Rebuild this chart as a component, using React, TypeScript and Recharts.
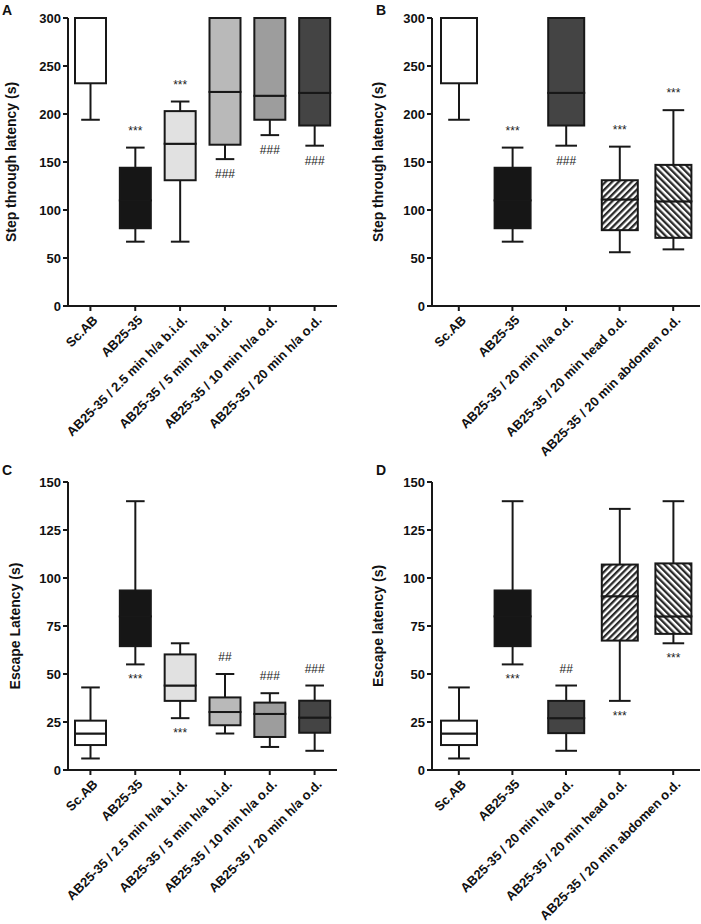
import { Bar, BarChart, XAxis, YAxis } from "recharts";

const doseGroups = [
  "Sc.AB",
  "AB25-35",
  "AB25-35 / 2.5 min h/a b.i.d.",
  "AB25-35 / 5 min h/a b.i.d.",
  "AB25-35 / 10 min h/a o.d.",
  "AB25-35 / 20 min h/a o.d.",
];
const siteGroups = [
  "Sc.AB",
  "AB25-35",
  "AB25-35 / 20 min h/a o.d.",
  "AB25-35 / 20 min head o.d.",
  "AB25-35 / 20 min abdomen o.d.",
];

const stepTicks = [0, 50, 100, 150, 200, 250, 300];
const escapeTicks = [0, 25, 50, 75, 100, 125, 150];

// A: step through latency, dose groups
const stepDoseMin = [194, 67, 67, 153, 178, 167];
const stepDoseQ1 = [232, 81, 131, 168, 194, 188];
const stepDoseMed = [300, 110, 169, 223, 219, 222];
const stepDoseQ3 = [300, 144, 203, 300, 300, 300];
const stepDoseMax = [300, 165, 213, 300, 300, 300];
const stepDoseAbove = ["", "***", "***", "", "", ""];
const stepDoseBelow = ["", "", "", "###", "###", "###"];

// B: step through latency, application site
const stepSiteMin = [194, 67, 167, 56, 59];
const stepSiteQ1 = [232, 81, 188, 79, 71];
const stepSiteMed = [300, 110, 222, 111, 109];
const stepSiteQ3 = [300, 144, 300, 131, 147];
const stepSiteMax = [300, 165, 300, 166, 204];
const stepSiteAbove = ["", "***", "", "***", "***"];
const stepSiteBelow = ["", "", "###", "", ""];

// C: escape latency, dose groups
const escDoseMin = [6, 55, 27, 19, 12, 10];
const escDoseQ1 = [13, 64.5, 36, 23.3, 17.2, 19.4];
const escDoseMed = [19, 80, 44, 30.2, 29.2, 27.3];
const escDoseQ3 = [25.7, 93.5, 60.2, 37.8, 35.1, 36.1];
const escDoseMax = [43, 140, 66, 50, 40, 44];
const escDoseAbove = ["", "", "", "##", "###", "###"];
const escDoseBelow = ["", "***", "***", "", "", ""];

// D: escape latency, application site
const escSiteMin = [6, 55, 10, 36, 66];
const escSiteQ1 = [13, 64.5, 19.2, 67.4, 70.9];
const escSiteMed = [19, 80, 27, 90.5, 80];
const escSiteQ3 = [25.7, 93.5, 36, 107, 107.6];
const escSiteMax = [43, 140, 44, 136, 140];
const escSiteAbove = ["", "", "##", "", ""];
const escSiteBelow = ["", "***", "", "***", "***"];

const doseFills = ["#ffffff", "#161616", "#e1e1e1", "#b9b9b9", "#9d9d9d", "#444444"];
const siteFills = ["#ffffff", "#161616", "#444444", "hatch-up", "hatch-down"];

const INK = "#181818";
const FONT = '"Liberation Sans", Arial, sans-serif';

function fillFor(fill: string, prefix: string) {
  return fill.startsWith("hatch") ? `url(#${prefix}-${fill})` : fill;
}

function AngledTick(props: any) {
  const { x, y, payload } = props;
  const ax = x + 8;
  const ay = y + 8;
  return (
    <text
      x={ax}
      y={ay}
      transform={`rotate(-45 ${ax} ${ay})`}
      textAnchor="end"
      fontSize={13}
      fontWeight={700}
      fill="#111"
    >
      {payload.value}
    </text>
  );
}

function Panel(props: any) {
  const {
    left, top, width, height, margin, letter, yLabel, labelX, yMax, yTicks,
    groups, mins, q1s, meds, q3s, maxs, above, below, fills, barSize, prefix,
  } = props;

  const rows = groups.map((name: string, i: number) => ({
    name,
    fill: fillFor(fills[i], prefix),
    above: above[i],
    below: below[i],
    base: mins[i],
    lowWhisker: q1s[i] - mins[i],
    lowBox: meds[i] - q1s[i],
    highBox: q3s[i] - meds[i],
    highWhisker: maxs[i] - q3s[i],
  }));

  const hidden = () => <g />;

  const boxShape = (p: any) => (
    <rect
      x={p.x}
      y={p.y}
      width={p.width}
      height={Math.max(p.height, 0)}
      fill={p.payload.fill}
      stroke={INK}
      strokeWidth={2}
    />
  );

  const lowWhiskerShape = (p: any) => {
    const cx = p.x + p.width / 2;
    const capW = p.width * 0.3;
    const bottom = p.y + p.height;
    return (
      <g>
        <line x1={cx} x2={cx} y1={p.y} y2={bottom} stroke={INK} strokeWidth={2} />
        <line x1={cx - capW} x2={cx + capW} y1={bottom} y2={bottom} stroke={INK} strokeWidth={2} />
        {p.payload.below ? (
          <text x={cx} y={bottom + 19} textAnchor="middle" fontSize={12} fill="#222">
            {p.payload.below}
          </text>
        ) : null}
      </g>
    );
  };

  const highWhiskerShape = (p: any) => {
    const cx = p.x + p.width / 2;
    const capW = p.width * 0.3;
    return (
      <g>
        <line x1={cx} x2={cx} y1={p.y} y2={p.y + p.height} stroke={INK} strokeWidth={2} />
        <line x1={cx - capW} x2={cx + capW} y1={p.y} y2={p.y} stroke={INK} strokeWidth={2} />
        {p.payload.above ? (
          <text x={cx} y={p.y - 13} textAnchor="middle" fontSize={12} fill="#222">
            {p.payload.above}
          </text>
        ) : null}
      </g>
    );
  };

  return (
    <div style={{ position: "absolute", left, top, width, height }}>
      <div
        style={{
          position: "absolute",
          left: props.letterX,
          top: 3,
          fontSize: 14,
          fontWeight: 700,
          lineHeight: "14px",
          color: "#111",
        }}
      >
        {letter}
      </div>
      <BarChart width={width} height={height} data={rows} margin={margin}>
        <defs>
          <pattern id={`${prefix}-hatch-up`} width={4.6} height={4.6} patternUnits="userSpaceOnUse" patternTransform="rotate(45)">
            <rect width={4.6} height={4.6} fill="#ffffff" />
            <rect width={2.3} height={4.6} fill="#2a2a2a" />
          </pattern>
          <pattern id={`${prefix}-hatch-down`} width={4.6} height={4.6} patternUnits="userSpaceOnUse" patternTransform="rotate(-45)">
            <rect width={4.6} height={4.6} fill="#ffffff" />
            <rect width={2.3} height={4.6} fill="#2a2a2a" />
          </pattern>
        </defs>
        <XAxis
          dataKey="name"
          interval={0}
          height={140}
          tick={<AngledTick />}
          tickSize={5}
          axisLine={{ stroke: INK, strokeWidth: 2 }}
          tickLine={{ stroke: INK, strokeWidth: 2 }}
        />
        <YAxis
          domain={[0, yMax]}
          ticks={yTicks}
          width={68}
          tickSize={5}
          axisLine={{ stroke: INK, strokeWidth: 2 }}
          tickLine={{ stroke: INK, strokeWidth: 2 }}
          tick={{ fontSize: 13, fontWeight: 700, fill: "#111" }}
          label={{
            content: (lp: any) => {
              const vb = lp.viewBox;
              const cy = vb.y + vb.height / 2;
              return (
                <text
                  x={labelX}
                  y={cy}
                  transform={`rotate(-90 ${labelX} ${cy})`}
                  textAnchor="middle"
                  dominantBaseline="central"
                  fontSize={14}
                  fontWeight={700}
                  fill="#111"
                >
                  {yLabel}
                </text>
              );
            },
          }}
        />
        <Bar dataKey="base" stackId="box" barSize={barSize} shape={hidden} isAnimationActive={false} />
        <Bar dataKey="lowWhisker" stackId="box" barSize={barSize} shape={lowWhiskerShape} isAnimationActive={false} />
        <Bar dataKey="lowBox" stackId="box" barSize={barSize} shape={boxShape} isAnimationActive={false} />
        <Bar dataKey="highBox" stackId="box" barSize={barSize} shape={boxShape} isAnimationActive={false} />
        <Bar dataKey="highWhisker" stackId="box" barSize={barSize} shape={highWhiskerShape} isAnimationActive={false} />
      </BarChart>
    </div>
  );
}

export default function App() {
  return (
    <div
      style={{
        position: "absolute",
        left: 0,
        top: 0,
        width: 701,
        height: 924,
        background: "#fff",
        fontFamily: FONT,
      }}
    >
      <Panel
        left={0} top={0} width={350} height={460}
        margin={{ top: 18, right: 13, bottom: 14, left: 0 }}
        letter="A" letterX={2} labelX={11}
        yLabel="Step through latency (s)" yMax={300} yTicks={stepTicks}
        groups={doseGroups} mins={stepDoseMin} q1s={stepDoseQ1} meds={stepDoseMed}
        q3s={stepDoseQ3} maxs={stepDoseMax} above={stepDoseAbove} below={stepDoseBelow}
        fills={doseFills} barSize={31} prefix="a"
      />
      <Panel
        left={350} top={0} width={351} height={460}
        margin={{ top: 18, right: 1, bottom: 14, left: 14 }}
        letter="B" letterX={26} labelX={28}
        yLabel="Step through latency (s)" yMax={300} yTicks={stepTicks}
        groups={siteGroups} mins={stepSiteMin} q1s={stepSiteQ1} meds={stepSiteMed}
        q3s={stepSiteQ3} maxs={stepSiteMax} above={stepSiteAbove} below={stepSiteBelow}
        fills={siteFills} barSize={36} prefix="b"
      />
      <Panel
        left={0} top={460} width={350} height={464}
        margin={{ top: 22, right: 13, bottom: 14, left: 0 }}
        letter="C" letterX={2} labelX={15}
        yLabel="Escape Latency (s)" yMax={150} yTicks={escapeTicks}
        groups={doseGroups} mins={escDoseMin} q1s={escDoseQ1} meds={escDoseMed}
        q3s={escDoseQ3} maxs={escDoseMax} above={escDoseAbove} below={escDoseBelow}
        fills={doseFills} barSize={31} prefix="c"
      />
      <Panel
        left={350} top={460} width={351} height={464}
        margin={{ top: 22, right: 1, bottom: 14, left: 14 }}
        letter="D" letterX={26} labelX={28}
        yLabel="Escape latency (s)" yMax={150} yTicks={escapeTicks}
        groups={siteGroups} mins={escSiteMin} q1s={escSiteQ1} meds={escSiteMed}
        q3s={escSiteQ3} maxs={escSiteMax} above={escSiteAbove} below={escSiteBelow}
        fills={siteFills} barSize={36} prefix="d"
      />
    </div>
  );
}
